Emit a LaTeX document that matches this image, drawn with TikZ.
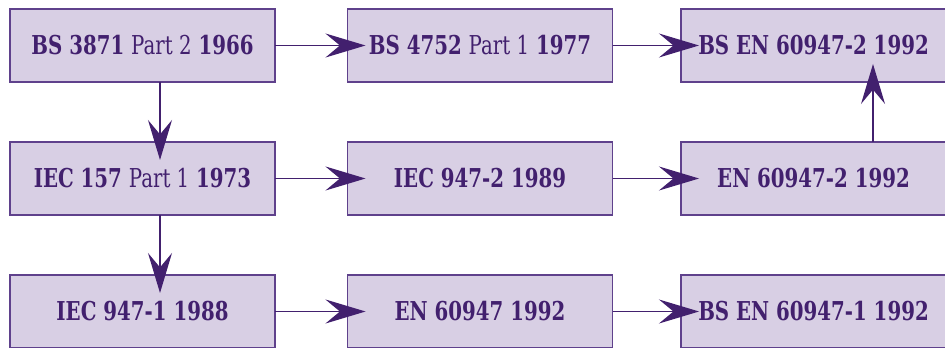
\documentclass[tikz,border=0pt]{standalone}
\usepackage{fontspec}
\setmainfont{DejaVu Serif}[FakeStretch=0.76]
\usepackage{xcolor}
\usetikzlibrary{arrows.meta}
\definecolor{boxfill}{RGB}{216,207,228}
\definecolor{boxline}{RGB}{95,65,140}
\definecolor{ink}{RGB}{66,32,110}
\tikzset{
  std/.style={draw=boxline, line width=0.9pt, fill=boxfill, text=ink,
    minimum width=6.625cm, minimum height=1.825cm, inner sep=0pt, outer sep=0pt,
    font=\fontsize{18.5}{22}\selectfont\bfseries},
  flow/.style={draw=ink, line width=0.9pt, shorten >=-0.45cm,
    -{Stealth[length=1.0cm,width=0.6cm,inset=0.36cm]}},
}
\begin{document}
\begin{tikzpicture}
      \useasboundingbox (0,0) rectangle (23.625,-8.7);
      % first row
      \node[std] (bsA) at (3.5625,-1.1375) {BS 3871 {\mdseries Part 2} 1966};
      \node[std] (bsB) at (12,-1.1375) {BS 4752 {\mdseries Part 1} 1977};
      \node[std] (bsC) at (20.3375,-1.1375) {BS EN 60947-2 1992};
      % second row
      \node[std] (iecA) at (3.5625,-4.4625) {IEC 157 {\mdseries Part 1} 1973};
      \node[std] (iecB) at (12,-4.4625) {IEC 947-2 1989};
      \node[std] (enA) at (20.3375,-4.4625) {EN 60947-2 1992};
      % third row
      \node[std] (iecC) at (3.5625,-7.7875) {IEC 947-1 1988};
      \node[std] (enB) at (12,-7.7875) {EN 60947 1992};
      \node[std] (bsD) at (20.3375,-7.7875) {BS EN 60947-1 1992};
      % arrows
      \draw[flow] (bsA) -- (bsB);
      \draw[flow] (bsB) -- (bsC);
      \draw[flow] (iecA) -- (iecB);
      \draw[flow] (iecB) -- (enA);
      \draw[flow] (iecC) -- (enB);
      \draw[flow] (enB) -- (bsD);
      \draw[flow] ([xshift=0.4375cm]bsA.south) -- ([xshift=0.4375cm]iecA.north);
      \draw[flow] ([xshift=0.4375cm]iecA.south) -- ([xshift=0.4375cm]iecC.north);
      \draw[flow] ([xshift=1.4875cm]enA.north) -- ([xshift=1.4875cm]bsC.south);
    \end{tikzpicture}
\end{document}
